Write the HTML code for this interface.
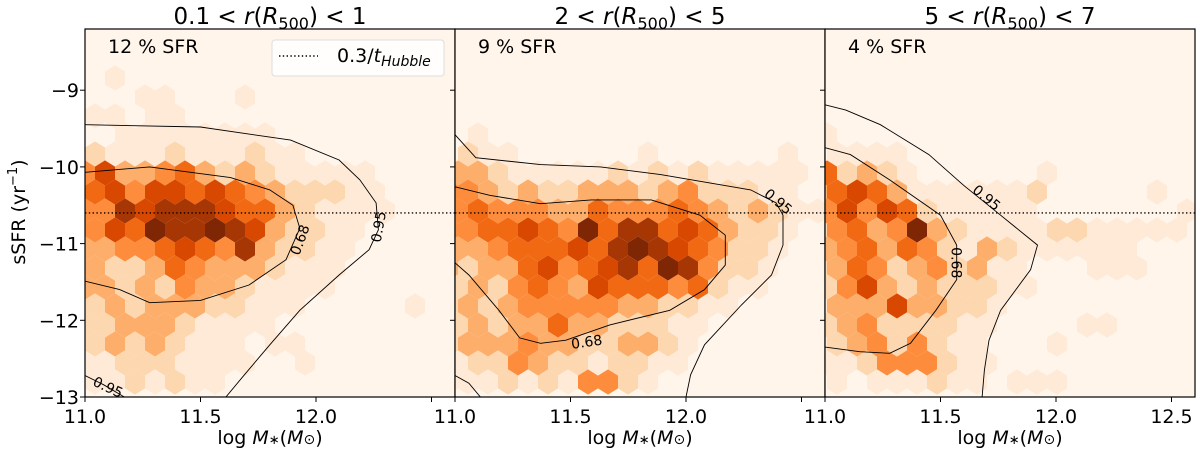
<!DOCTYPE html>
<html><head><meta charset="utf-8"><style>
html,body{margin:0;padding:0;background:#fff;}
svg{display:block;font-family:"DejaVu Sans","Liberation Sans",sans-serif;}
</style></head><body>
<svg id="chart" width="1200" height="455" viewBox="0 0 1200 455" xmlns="http://www.w3.org/2000/svg"></svg>
<script>
// ---- data ----
const xTicks = [11.0, 11.5, 12.0, 12.5];
const xTickLabels = ["11.0", "11.5", "12.0", "12.5"];
const yTicks = [-9, -10, -11, -12, -13];
const yTickLabels = ["\u22129", "\u221210", "\u221211", "\u221212", "\u221213"];
const panelTitles = ["0.1 < r(R500) < 1", "2 < r(R500) < 5", "5 < r(R500) < 7"];
const sfrLabels = ["12 % SFR", "9 % SFR", "4 % SFR"];
const hubbleLevel = -10.6;
// hex count levels (0-8), rows k=-8..8, columns j=-1..18
const hexRowStart = -8;
const hexP1 = [
"00100000000000000000",
"00011000100000000000",
"01101100000000000000",
"00111111110000000000",
"02111211121100000000",
"46334532321111100000",
"05646656543222110000",
"44767776553211110000",
"04658778763221100000",
"33445654732211000000",
"03223543332111000000",
"33232433211110000000",
"02323332211100000100",
"22333211110000000000",
"02323211101100000000",
"11222111100100000000",
"01121211000000000000"];
const hexP2 = [
"00000000000000000000",
"00000000000000000000",
"00000000000000000000",
"01000000000000000000",
"02110000001000000100",
"33211111212121111100",
"44323223332342221100",
"45444335444543232110",
"44556548577565322100",
"33455565787654221000",
"32335645675874221000",
"23245436555452110000",
"23234444433221100000",
"23233533222110000000",
"23334332233210000000",
"12243221221100000000",
"11121214421000000000"];
const hexP3 = [
"00000000000000000000",
"00000000000000000000",
"00000000000000000000",
"10000000000000000000",
"01111000000000000000",
"52321000000100000000",
"35653111111200000100",
"46465211111000000010",
"24534832111122111110",
"34535421321111110000",
"23542342311000111000",
"24632322211000000000",
"13336332210000000000",
"23422221100001100000",
"12342421100010000000",
"11244421100000000000",
"01011121101110000000"];
// contours in data coords
const c95aX = [[11.0,11.5,11.89,12.1,12.19,12.26,12.27,12.23,12.1,11.93,11.8,11.69,11.61],[11.0,11.09,11.37,11.63,11.89,12.28,12.39,12.42,12.42,12.37,12.24,12.08,12.02,12.0],[11.0,11.09,11.24,11.45,11.6,11.76,11.92,11.89,11.76,11.71,11.69,11.68]];
const c95aY = [[-9.45,-9.48,-9.65,-9.91,-10.17,-10.47,-10.82,-11.08,-11.41,-11.87,-12.32,-12.71,-13],[-9.58,-9.88,-9.97,-10.0,-10.1,-10.3,-10.47,-10.63,-11.02,-11.41,-11.8,-12.32,-12.71,-13],[-9.19,-9.26,-9.45,-9.84,-10.24,-10.63,-11.02,-11.34,-11.87,-12.26,-12.65,-13]];
const c68X = [[11.0,11.28,11.63,11.8,11.9,11.93,11.87,11.71,11.5,11.28,11.15,11.0],[11.0,11.15,11.37,11.59,11.85,12.06,12.17,12.17,12.08,11.93,11.67,11.48,11.37,11.28,11.19,11.06,11.0],[11.0,11.11,11.28,11.5,11.57,11.57,11.48,11.37,11.28,11.15,11.0]];
const c68Y = [[-10.07,-10.0,-10.14,-10.3,-10.5,-10.8,-11.21,-11.54,-11.74,-11.77,-11.6,-11.49],[-10.26,-10.37,-10.48,-10.43,-10.43,-10.63,-10.89,-11.28,-11.6,-11.87,-12.06,-12.26,-12.3,-12.23,-11.87,-11.41,-11.25],[-9.75,-9.84,-10.17,-10.63,-11.02,-11.47,-11.87,-12.3,-12.43,-12.41,-12.35]];
const c95bX = [[11.0,11.08,11.17],[11.0,11.06,11.11],[]];
const c95bY = [[-12.72,-12.84,-13],[-12.72,-12.82,-13],[]];
// labels for contours [x,y,angle,text]
const cLabels = [[[12.27,-10.78,-80,"0.95"],[11.93,-10.95,-70,"0.68"],[11.1,-12.87,25,"0.95"]],[[12.4,-10.45,40,"0.95"],[11.57,-12.28,-8,"0.68"]],[[11.7,-10.4,40,"0.95"],[11.57,-11.25,90,"0.68"]]];

// ---- layout ----
const panelLeft = [85, 455, 825];
const PW = 370, TOP = 29, BOT = 397;
const xMin = 11.0, xPerPx = 231, yMin = -13, yPerPx = 76.7;
const hexX0 = [95, 468, 837];
const colors = ["#fff5eb","#feead6","#fdd7b0","#fdae6b","#fd8d3c","#f16913","#d94801","#a63603","#7f2704"];
const NS = "http://www.w3.org/2000/svg";
const svg = document.getElementById('chart');
function el(tag, attrs, parent){const e=document.createElementNS(NS,tag);for(const k in attrs)e.setAttribute(k,attrs[k]);(parent||svg).appendChild(e);return e;}
function sx(p,v){return panelLeft[p]+(v-xMin)*xPerPx;}
function sy(v){return BOT-(v-yMin)*yPerPx;}
const defs = el('defs',{});
const grids=[hexP1,hexP2,hexP3];
for(let p=0;p<3;p++){
  const cp=el('clipPath',{id:'clip'+p},defs);
  el('rect',{x:panelLeft[p],y:TOP,width:PW,height:BOT-TOP},cp);
  const g=el('g',{'clip-path':'url(#clip'+p+')'});
  
  
  const bg=el('rect',{x:panelLeft[p],y:TOP,width:PW,height:BOT-TOP,fill:colors[0]},g);
  
  
  const grid=grids[p];
  for(let r=0;r<grid.length;r++){
    const k=hexRowStart+r, cy=230+19*k;
    for(let c=0;c<grid[r].length;c++){
      const lv=+grid[r][c]; if(!lv) continue;
      const j=c-1, cx=hexX0[p]+20*j+(Math.abs(k)%2?10:0);
      const h=12.67, s=6.33, w=10;
      const poly=el('polygon',{points:`${cx},${cy-h} ${cx+w},${cy-s} ${cx+w},${cy+s} ${cx},${cy+h} ${cx-w},${cy+s} ${cx-w},${cy-s}`,fill:colors[lv]},g);
      
      
    }
  }
  const lines=[[c95aX[p],c95aY[p],'contour-095'],[c68X[p],c68Y[p],'contour-068'],[c95bX[p],c95bY[p],'contour-095-lower']];
  for(const [xs,ys,nm] of lines){
    if(!xs.length) continue;
    const d=xs.map((x,i)=>(i?'L':'M')+sx(p,x).toFixed(1)+','+sy(ys[i]).toFixed(1)).join(' ');
    const pa=el('path',{d:d,fill:'none',stroke:'#000','stroke-width':0.9},g);
    
    
  }
  for(const [lx,ly,ang,txt] of cLabels[p]){
    const X=sx(p,lx),Y=sy(ly);
    const t=el('text',{x:X,y:Y+5,'font-size':14,'text-anchor':'middle',transform:`rotate(${ang} ${X} ${Y})`},g);
    t.textContent=txt;
    
    
  }
  const hl=el('line',{x1:panelLeft[p],x2:panelLeft[p]+PW,y1:sy(hubbleLevel),y2:sy(hubbleLevel),stroke:'#000','stroke-width':1.4,'stroke-dasharray':'1.4 2.4'},g);
  
  
  const fr=el('rect',{x:panelLeft[p],y:TOP,width:PW,height:BOT-TOP,fill:'none',stroke:'#000','stroke-width':1.2});
  
  
  // x ticks
  for(let i=0;i<xTicks.length;i++){
    const X=sx(p,xTicks[i]); if(X>panelLeft[p]+PW+1) continue;
    el('line',{x1:X,x2:X,y1:BOT,y2:BOT+5,stroke:'#000','stroke-width':1});
    if(p<2 && i===3) { continue; }
    const t=el('text',{x:X,y:423,'font-size':19,'text-anchor':'middle'});
    t.textContent=xTickLabels[i];
    
    
  }
  // y ticks
  for(let i=0;i<yTicks.length;i++){
    const Y=sy(yTicks[i]);
    el('line',{x1:panelLeft[p]-5,x2:panelLeft[p],y1:Y,y2:Y,stroke:'#000','stroke-width':1});
    if(p===0){
      const t=el('text',{x:79,y:Y+7,'font-size':19,'text-anchor':'end'});
      t.textContent=yTickLabels[i];
      
      
    }
  }
  const cxm=panelLeft[p]+PW/2;
  const ti=el('text',{x:cxm,y:24,'font-size':23,'text-anchor':'middle'});
  
  
  const parts=panelTitles[p].split('r(R500)');
  ti.innerHTML=parts[0]+'<tspan font-style="italic">r</tspan>(<tspan font-style="italic">R</tspan><tspan font-size="16" dy="5">500</tspan><tspan dy="-5">)</tspan>'+parts[1];
  const sl=el('text',{x:panelLeft[p]+23,y:53,'font-size':19});
  sl.textContent=sfrLabels[p];
  
  
  const xl=el('text',{x:cxm,y:444,'font-size':19,'text-anchor':'middle'});
  xl.innerHTML='log <tspan font-style="italic">M</tspan><tspan font-size="13">\u2217</tspan>(<tspan font-style="italic">M</tspan><tspan font-size="14">\u2299</tspan>)';
  
  
}
// y label
const yl=el('text',{x:0,y:0,'font-size':19,'text-anchor':'middle',transform:'translate(25,212) rotate(-90)'});
yl.innerHTML='sSFR (yr<tspan font-size="13" dy="-8">\u22121</tspan><tspan dy="8">)</tspan>';


// legend
const lg=el('g',{});


el('rect',{x:272,y:40,width:172,height:36,rx:3,fill:'#fff','fill-opacity':0.85,stroke:'#ddd','stroke-width':1},lg);
el('line',{x1:279,x2:318,y1:56,y2:56,stroke:'#000','stroke-width':1.4,'stroke-dasharray':'1.4 2.4'},lg);
const lt=el('text',{x:337,y:62,'font-size':19},lg);
lt.innerHTML='0.3/<tspan font-style="italic">t</tspan><tspan font-style="italic" font-size="14" dy="4">Hubble</tspan>';


</script>
</body></html>
